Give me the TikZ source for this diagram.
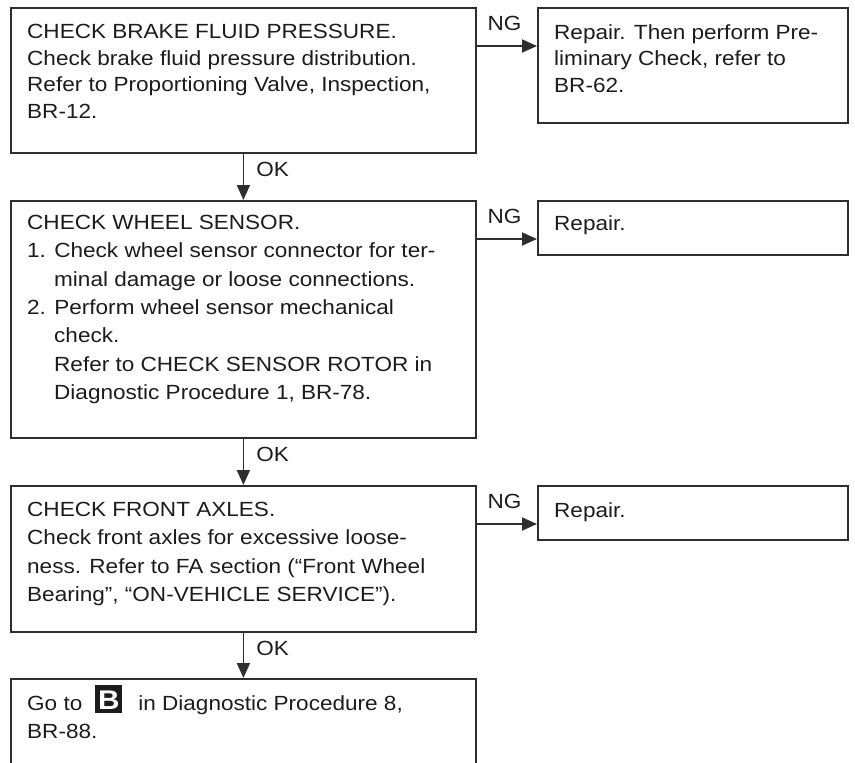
\documentclass[tikz,border=0pt]{standalone}
\usepackage{fontspec}
\setmainfont{Liberation Sans}[FakeStretch=1.1]
\usepackage{xcolor}
\definecolor{lineGray}{HTML}{2E2E2E}
\definecolor{inkGray}{HTML}{1C1C1C}
\usetikzlibrary{arrows.meta,positioning}
% black key with a white letter
\newcommand{\keyB}{\raisebox{-3pt}[0pt][0pt]{\setlength{\fboxsep}{0pt}\colorbox{inkGray}{\makebox[27pt][c]{\rule{0pt}{28pt}\raisebox{4pt}{\color{white}\fontsize{27}{27}\selectfont\bfseries B}}}}}

\begin{document}
\begin{tikzpicture}[x=1pt,y=-1pt,
  box/.style={draw=lineGray,line width=1.8pt,anchor=north west,inner sep=0pt},
  txt/.style={anchor=north west,align=left,inner sep=0pt,text=inkGray,font=\fontsize{20.5}{28.3}\selectfont},
  arr/.style={draw=lineGray,line width=1.8pt,-{Triangle[length=15pt,width=13pt]}},
  ok/.style={anchor=base west,xshift=12pt,inner sep=0pt,text=inkGray,font=\fontsize{20.5}{24}\selectfont},
  ng/.style={anchor=base west,xshift=10pt,yshift=16pt,inner sep=0pt,text=inkGray,font=\fontsize{20.5}{24}\selectfont}]
  \useasboundingbox (0,0) rectangle (855,763);
  \clip (0,0) rectangle (855,763);
  % left column
  \node[box,minimum width=465pt,minimum height=145pt] (brake) at (10,7) {};
  \node[box,minimum width=465pt,minimum height=237pt] (sensor) at (10,200) {};
  \node[box,minimum width=465pt,minimum height=146pt] (axle) at (10,485) {};
  \node[box,minimum width=465pt,minimum height=120pt] (goto) at (10,678) {};
  % right column
  \node[box,minimum width=310pt,minimum height=115pt] (fixA) at (537,7) {};
  \node[box,minimum width=310pt,minimum height=54pt] (fixB) at (537,200) {};
  \node[box,minimum width=310pt,minimum height=54pt] (fixC) at (537,485) {};
  % texts
  \node[txt,font=\fontsize{20.5}{26.7}\selectfont] (brakeT) at ([xshift=17pt,yshift=-17pt]brake.north west)
    {CHECK BRAKE FLUID PRESSURE.\\Check brake fluid pressure distribution.\\Refer to Proportioning Valve, Inspection,\\BR-12.};
  \node[txt] (sensorT) at ([xshift=17pt,yshift=-15pt]sensor.north west)
    {CHECK WHEEL SENSOR.\\1. Check wheel sensor connector for ter-\\\hspace*{27pt}minal damage or loose connections.\\2. Perform wheel sensor mechanical\\\hspace*{27pt}check.\\\hspace*{27pt}Refer to CHECK SENSOR ROTOR in\\\hspace*{27pt}Diagnostic Procedure 1, BR-78.};
  \node[txt] (axleT) at ([xshift=17pt,yshift=-17pt]axle.north west)
    {CHECK FRONT AXLES.\\Check front axles for excessive loose-\\ness. Refer to FA section (``Front Wheel\\Bearing'', ``ON-VEHICLE SERVICE'').};
  \node[txt] (gotoT) at ([xshift=17pt,yshift=-17pt]goto.north west)
    {Go to\hspace{13pt}\keyB\hspace{16pt}in Diagnostic Procedure 8,\\BR-88.};
  \node[txt,font=\fontsize{20.5}{26.7}\selectfont] (fixAT) at ([xshift=17pt,yshift=-17pt]fixA.north west)
    {Repair. Then perform Pre-\\liminary Check, refer to\\BR-62.};
  \node[txt] (fixBT) at ([xshift=17pt,yshift=-15pt]fixB.north west) {Repair.};
  \node[txt] (fixCT) at ([xshift=17pt,yshift=-17pt]fixC.north west) {Repair.};
  % connectors
  \foreach \a/\b in {brake/sensor,sensor/axle,axle/goto}
    \draw[arr] (\a.south) -- node[ok]{OK} (\b.north);
  \foreach \a/\b in {brake/fixA,sensor/fixB,axle/fixC} {
    \coordinate (ng\a) at ([yshift=-39pt]\a.north east);
    \draw[arr] (ng\a) node[ng]{NG} -- (ng\a -| \b.west);
  }
\end{tikzpicture}
\end{document}
